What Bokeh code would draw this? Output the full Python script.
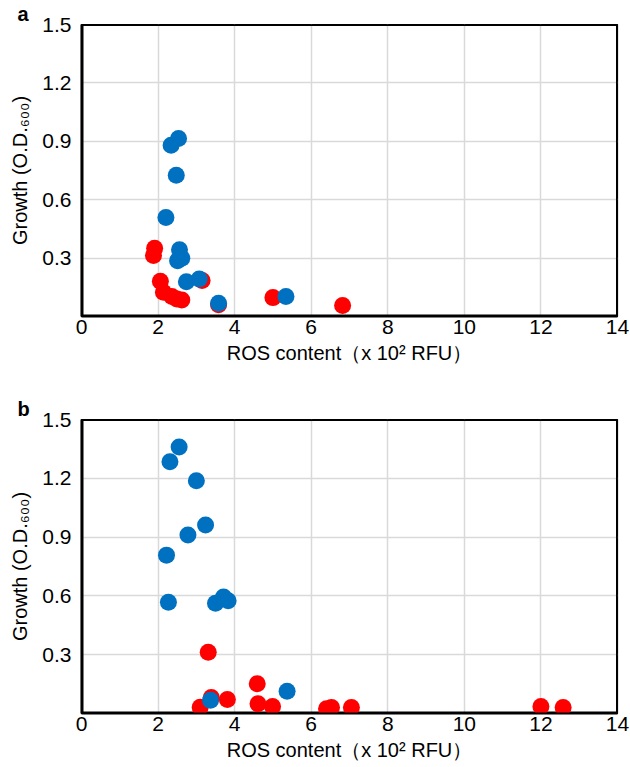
from bokeh.plotting import figure
from bokeh.layouts import column
from bokeh.models import FixedTicker, Range1d
from bokeh.embed import file_html
from bokeh.resources import INLINE

# Panel a data
a_blue_x = [2.535, 2.34, 2.475, 2.205, 2.56, 2.51, 2.62, 2.74, 3.075, 3.58, 5.34]
a_blue_y = [0.914, 0.88, 0.726, 0.509, 0.343, 0.287, 0.299, 0.179, 0.193, 0.068, 0.103]
a_red_x = [1.91, 1.88, 2.06, 2.14, 2.36, 2.49, 2.62, 3.15, 3.58, 5.0, 6.82]
a_red_y = [0.35, 0.313, 0.181, 0.125, 0.103, 0.09, 0.085, 0.185, 0.06, 0.097, 0.056]

# Panel b data
b_blue_x = [2.55, 2.31, 3.0, 3.24, 2.78, 2.22, 2.27, 3.5, 3.71, 3.83, 3.37, 5.37]
b_blue_y = [1.36, 1.285, 1.188, 0.962, 0.911, 0.808, 0.568, 0.563, 0.594, 0.575, 0.068, 0.114]
b_red_x = [3.31, 3.1, 3.39, 3.81, 4.59, 4.61, 4.99, 6.4, 6.53, 7.05, 12.0, 12.58]
b_red_y = [0.313, 0.032, 0.082, 0.072, 0.152, 0.05, 0.036, 0.024, 0.03, 0.03, 0.036, 0.03]

x_ticks = [0, 2, 4, 6, 8, 10, 12, 14]
y_ticks = [0.3, 0.6, 0.9, 1.2, 1.5]
X_MIN, X_MAX, Y_MIN, Y_MAX = 0, 14, 0, 1.5

BLUE = "#0070C0"
RED = "#FF0000"
FONT = "Liberation Sans"


def make_panel(letter, bx, by, rx, ry, top, fh, bottom):
    p = figure(frame_width=536, frame_height=fh, output_backend="svg",
               toolbar_location=None, x_range=Range1d(X_MIN, X_MAX),
               y_range=Range1d(Y_MIN, Y_MAX),
               min_border_left=81, min_border_right=13, min_border_top=top,
               min_border_bottom=bottom, background_fill_color="white",
               border_fill_color="white", title=letter)
    p.title.align = "left"
    p.title.offset = -64
    p.title.standoff = 0
    p.title.text_font = FONT
    p.title.text_font_size = "20px"
    p.title.text_font_style = "bold"
    p.title.text_color = "black"
    p.outline_line_color = "black"
    p.outline_line_width = 1.2
    p.xaxis.ticker = FixedTicker(ticks=x_ticks)
    p.yaxis.ticker = FixedTicker(ticks=y_ticks)
    for ax in (p.xaxis[0], p.yaxis[0]):
        ax.axis_line_color = "black"
        ax.axis_line_width = 2
        ax.major_tick_line_color = None
        ax.minor_tick_line_color = None
        ax.major_tick_out = 0
        ax.major_tick_in = 0
        ax.minor_tick_out = 0
        ax.major_label_text_font = FONT
        ax.major_label_text_font_size = "21px"
        ax.major_label_text_color = "black"
        ax.axis_label_text_font = FONT
        ax.axis_label_text_font_size = "20px"
        ax.axis_label_text_font_style = "normal"
        ax.axis_label_text_color = "black"
    p.xaxis.major_label_standoff = 3
    p.yaxis.major_label_standoff = 10
    p.xaxis.axis_label = "ROS content\uff08x 10\u00b2 RFU\uff09"
    p.yaxis.axis_label = "Growth (O.D.\u2086\u2080\u2080)"
    p.xaxis.axis_label_standoff = 5
    p.yaxis.axis_label_standoff = 8
    p.xgrid.ticker = FixedTicker(ticks=x_ticks)
    p.ygrid.ticker = FixedTicker(ticks=y_ticks)
    p.grid.grid_line_color = "#d9d9d9"
    p.grid.grid_line_width = 1.5

    # frame border drawn as glyphs (clipped to the frame, so use thicker lines)
    p.multi_line(xs=[[X_MIN, X_MAX], [X_MIN, X_MIN]],
                 ys=[[Y_MIN, Y_MIN], [Y_MIN, Y_MAX]],
                 line_color="black", line_width=4)
    p.multi_line(xs=[[X_MIN, X_MAX], [X_MAX, X_MAX]],
                 ys=[[Y_MAX, Y_MAX], [Y_MIN, Y_MAX]],
                 line_color="black", line_width=3)

    p.scatter(x=rx, y=ry, size=17, color=RED, line_color=None)
    p.scatter(x=bx, y=by, size=17, color=BLUE, line_color=None)
    return p


pa = make_panel("a", a_blue_x, a_blue_y, a_red_x, a_red_y, 23, 292, 68)
pb = make_panel("b", b_blue_x, b_blue_y, b_red_x, b_red_y, 35, 294, 55)

layout = column(pa, pb, spacing=0)
open("out.html", "w").write(file_html(layout, INLINE))
